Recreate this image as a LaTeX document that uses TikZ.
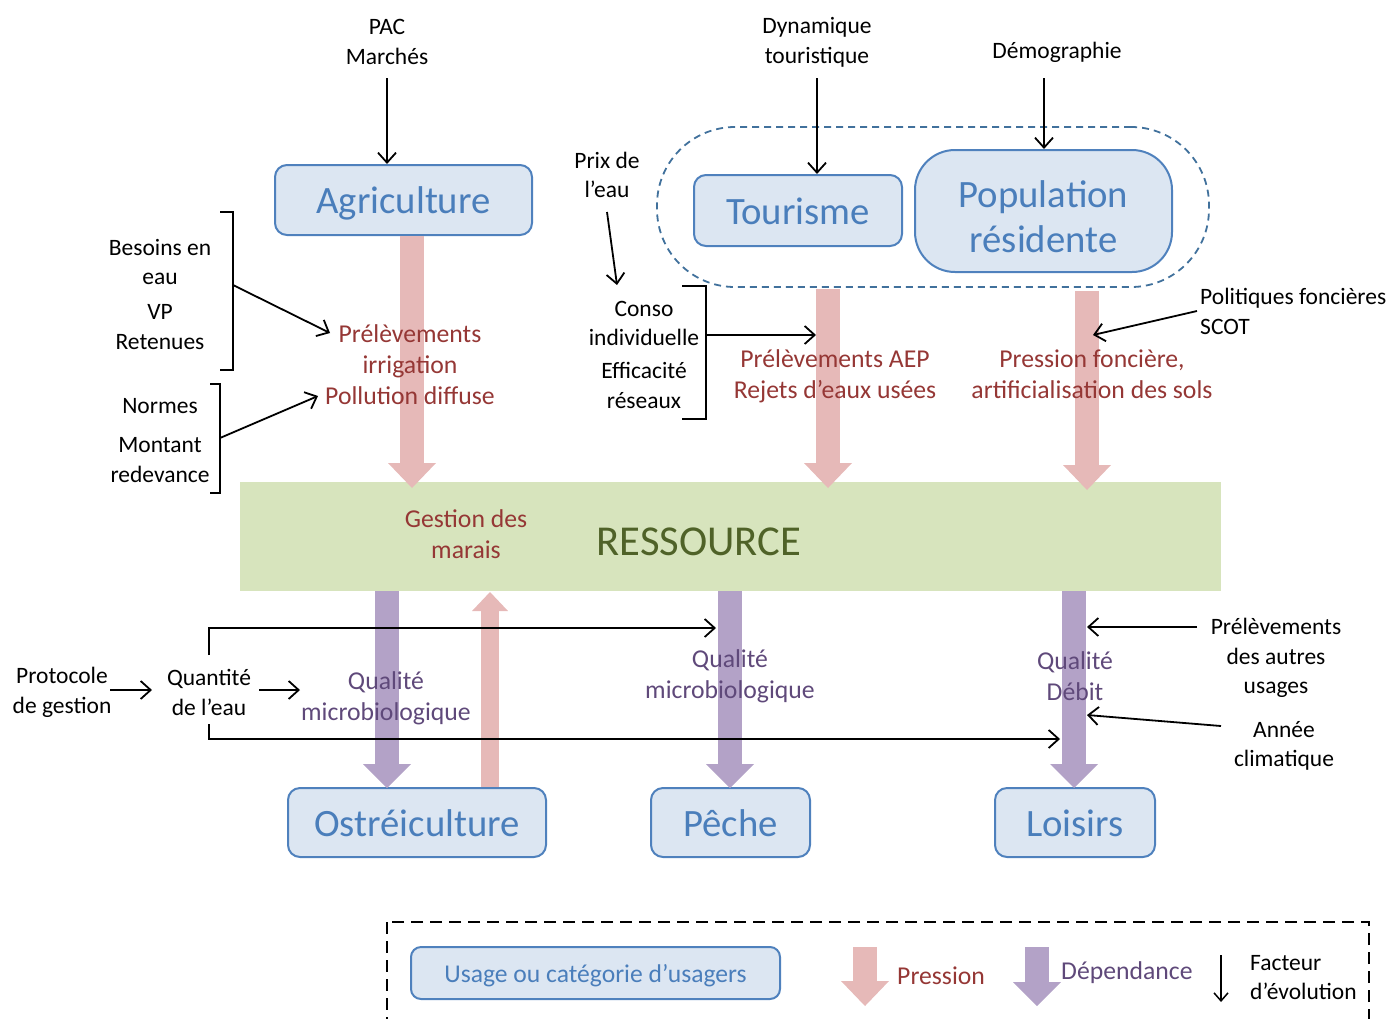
\documentclass[tikz,border=0pt]{standalone}
\usepackage{fontspec}
\setmainfont{Carlito}
\usetikzlibrary{arrows.meta}
\definecolor{boxfill}{HTML}{DCE6F2}
\definecolor{boxdraw}{HTML}{4F81BD}
\definecolor{boxtext}{HTML}{4A7EBB}
\definecolor{pinkc}{HTML}{E6B9B8}
\definecolor{purc}{HTML}{B3A2C7}
\definecolor{redtext}{HTML}{953735}
\definecolor{purtext}{HTML}{5F497A}
\definecolor{resfill}{HTML}{D7E4BD}
\definecolor{restext}{HTML}{4F6228}
\definecolor{grpdraw}{HTML}{41719C}
\begin{document}
\begin{tikzpicture}[x=1pt,y=-1pt,
 usage/.style={draw=boxdraw, fill=boxfill, line width=2pt, rounded corners=12pt, text=boxtext,
   font=\fontsize{38.7}{47}\selectfont, align=center, inner sep=0pt, text height=33pt, text depth=6pt},
 small/.style={font=\fontsize{23.5}{29.5}\selectfont, align=center, inner sep=0pt},
 redt/.style={text=redtext, font=\fontsize{25.7}{31}\selectfont, align=center, inner sep=0pt},
 purt/.style={text=purtext, font=\fontsize{25.7}{31}\selectfont, align=center, inner sep=0pt},
 fact/.style={line width=1.8pt, -{Straight Barb[length=10pt,width=18pt]}},
 brk/.style={line width=1.8pt},
 pinkA/.style={draw=pinkc, line width=24pt, -{Triangle[length=25pt,width=48pt,line width=0pt]}},
 pinkS/.style={draw=pinkc, line width=18pt, -{Triangle[length=19pt,width=36pt,line width=0pt]}},
 purA/.style={draw=purc, line width=24pt, -{Triangle[length=24pt,width=48pt,line width=0pt]}},
]
\useasboundingbox (0,0) rectangle (1391,1018);

% ---------- resource ----------
\node[fill=resfill, minimum width=981pt, minimum height=109pt, inner sep=0pt] (res) at (730.5,536.5) {};

% ---------- usage boxes ----------
\node[usage, minimum width=257pt, minimum height=70pt] (agri) at (403.5,200) {Agriculture};
\node[draw=grpdraw, dashed, dash pattern=on 7pt off 5pt, line width=1.8pt, rounded corners=78pt,
      minimum width=552pt, minimum height=160pt] (grp) at (933,207) {};
\node[usage, minimum width=208pt, minimum height=71pt] (tour) at (798,210.5) {Tourisme};
\node[usage, rounded corners=40pt, minimum width=257pt, minimum height=122pt] (pop) at (1043.5,211) {};
\node[text=boxtext, font=\fontsize{38.7}{45}\selectfont, align=center, inner sep=0pt] (poptxt) at (1043.5,217) {Population\\résidente};
\node[usage, minimum width=258pt, minimum height=69pt] (ostr) at (417,822.5) {Ostréiculture};
\node[usage, minimum width=159pt, minimum height=69pt] (peche) at (730.5,822.5) {Pêche};
\node[usage, minimum width=160pt, minimum height=69pt] (lois) at (1075,822.5) {Loisirs};

% ---------- fat arrows ----------
\coordinate (pa1) at (412,488);
\coordinate (pa2) at (828,488);
\coordinate (pa3) at (1087,490);
\coordinate (pu1) at (387,788);
\coordinate (pu2) at (490,592);
\coordinate (pu3) at (730,788);
\coordinate (pu4) at (1074,788);
\draw[pinkA] (agri.south -| pa1) -- (pa1);
\draw[pinkA] ([yshift=-1pt]grp.south -| pa2) -- (pa2);
\draw[pinkA] ([yshift=-3pt]grp.south -| pa3) -- (pa3);
\draw[purA] (res.south -| pu1) -- (pu1);
\draw[pinkS] (ostr.north -| pu2) -- (pu2);
\draw[purA] (res.south -| pu3) -- (pu3);
\draw[purA] (res.south -| pu4) -- (pu4);

\node[text=restext, font=\fontsize{42.6}{50}\selectfont, inner sep=0pt] (restxt) at (699,542) {RESSOURCE};

% ---------- top factors ----------
\node[small] (pac) at (387,42) {PAC\\Marchés};
\draw[fact] (387,78) -- (agri.north -| pac.south);
\node[small] (dyn) at (817,42.5) {Dynamique\\touristique};
\draw[fact] (817,78) -- (tour.north -| dyn.south);
\node[small] (demo) at (1057,52) {Démographie};
\coordinate (demoarr) at (1044,78);
\draw[fact] (demoarr) -- (pop.north -| demoarr);

% ---------- agriculture left side ----------
\node[small] (besoins) at (160,262) {Besoins en\\eau};
\node[small] (vp) at (160,327) {VP\\Retenues};
\draw[brk] (220,212) -- (233,212) -- (233,370) -- (220,370);
\coordinate (b1) at (233,285);
\node[small] (normes) at (160,406) {Normes};
\node[small] (montant) at (160,460) {Montant\\redevance};
\draw[brk] (210,384) -- (220,384) -- (220,493) -- (210,493);
\coordinate (b2) at (220,438);
\node[redt] (prel) at (410,365) {Prélèvements\\irrigation\\Pollution diffuse};
\coordinate (t1) at (330,333);
\coordinate (t2) at (318,396);
\draw[fact] (b1) -- (t1);
\draw[fact] (b2) -- (t2);

% ---------- tourism / population ----------
\node[small] (prix) at (607,175) {Prix de\\l’eau};
\node[small] (conso) at (644,323.5) {Conso\\individuelle};
\node[small] (effic) at (644,385.5) {Efficacité\\réseaux};
\draw[fact] (607,212) -- (617,285);
\draw[brk] (682,286) -- (706,286) -- (706,419) -- (682,419);
\coordinate (b3) at (706,335);
\coordinate (t3) at (816,335);
\draw[fact] (b3) -- (t3);
\node[redt] (aep) at (835,376) {Prélèvements AEP\\Rejets d’eaux usées};
\node[redt] (fonc) at (1092,374.5) {Pression foncière,\\artificialisation des sols};
\node[small, align=left, anchor=west] (polit) at (1200,311.5) {Politiques foncières\\SCOT};
\coordinate (t4) at (1093,335);
\draw[fact] (1197,311) -- (t4);

\node[redt] (gest) at (466,534.5) {Gestion des\\marais};

% ---------- bottom ----------
\node[small] (proto) at (62,692.5) {Protocole\\de gestion};
\node[small] (quant) at (209,692.5) {Quantité\\de l’eau};
\draw[fact] (110,690) -- (152,690);
\draw[fact] (259,690) -- (300,690);
\coordinate (t5) at (716,628);
\coordinate (t6) at (1060,739);
\draw[fact] (209,655) -- (209,628) -- (t5);
\draw[fact] (209,724) -- (209,739) -- (t6);
\node[purt] (q1) at (386,698.5) {Qualité\\microbiologique};
\node[purt] (q2) at (730,676.5) {Qualité\\microbiologique};
\node[purt] (q3) at (1075,676) {Qualité\\Débit};
\node[small] (autres) at (1276,658) {Prélèvements\\des autres\\usages};
\node[small] (annee) at (1284,746) {Année\\climatique};
\coordinate (t7) at (1087,627);
\coordinate (t8) at (1087,715);
\draw[fact] (1197,627) -- (t7);
\draw[fact] (1221,726) -- (t8);

% ---------- legend ----------
\draw[dashed, dash pattern=on 12pt off 7pt, line width=1.8pt] (387,922) rectangle (1369,1060);
\node[usage, rounded corners=10pt, font=\fontsize{25.6}{31}\selectfont, text height=22pt, text depth=3pt,
      minimum width=369pt, minimum height=52pt] (legbox) at (595.5,973) {Usage ou catégorie d’usagers};
\draw[pinkA] (865,947) -- (865,1006);
\node[redt, anchor=west] (legp) at (897,976) {Pression};
\draw[purA] (1037,947) -- (1037,1006);
\node[purt, anchor=west] (legd) at (1061,972.5) {Dépendance};
\draw[line width=1.5pt, -{Straight Barb[length=8pt,width=14pt]}] (1221,955) -- (1221,1002);
\node[small, align=left, anchor=west] (legf) at (1250,977.5) {Facteur\\d’évolution};
\end{tikzpicture}
\end{document}
